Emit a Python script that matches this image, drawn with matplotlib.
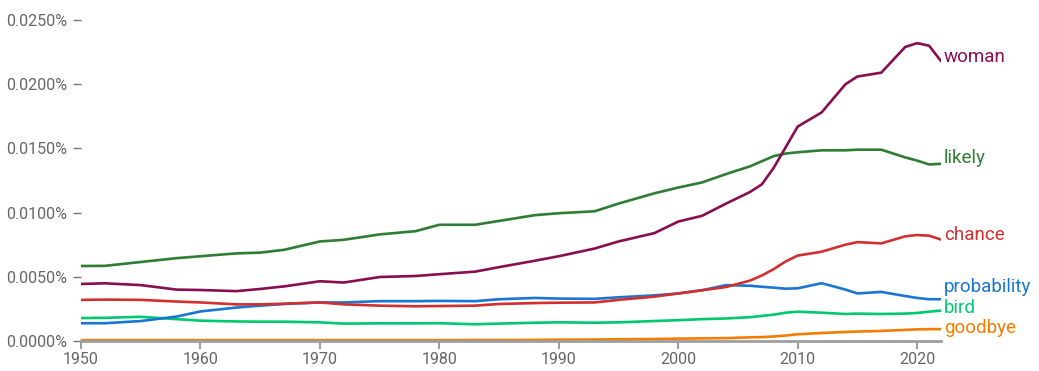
import matplotlib
matplotlib.use("Agg")
import matplotlib.pyplot as plt
from matplotlib.ticker import FuncFormatter

plt.rcParams['font.family'] = ['Roboto', 'DejaVu Sans']

years = [1950, 1952, 1955, 1958, 1960, 1963, 1965, 1967, 1970, 1972, 1975, 1978,
         1980, 1983, 1985, 1988, 1990, 1993, 1995, 1998, 2000, 2002, 2004, 2006,
         2007, 2008, 2009, 2010, 2012, 2014, 2015, 2017, 2019, 2020, 2021, 2022]

# frequencies in percent
likely = [5.84, 5.85, 6.15, 6.45, 6.6, 6.82, 6.88, 7.1, 7.75, 7.88, 8.3, 8.55,
          9.05, 9.05, 9.35, 9.8, 9.95, 10.1, 10.7, 11.5, 11.95, 12.35, 13.0, 13.6,
          14.0, 14.4, 14.6, 14.7, 14.85, 14.85, 14.9, 14.9, 14.3, 14.05, 13.75, 13.8]
woman = [4.44, 4.49, 4.35, 4.0, 3.97, 3.88, 4.05, 4.25, 4.65, 4.55, 4.98, 5.06,
         5.2, 5.4, 5.75, 6.25, 6.6, 7.2, 7.75, 8.4, 9.3, 9.75, 10.7, 11.6,
         12.2, 13.5, 15.1, 16.7, 17.8, 20.0, 20.6, 20.9, 22.9, 23.2, 23.0, 21.8]
chance = [3.2, 3.22, 3.2, 3.07, 3.0, 2.85, 2.85, 2.9, 3.0, 2.85, 2.75, 2.7,
          2.72, 2.75, 2.88, 2.95, 2.98, 3.0, 3.2, 3.45, 3.7, 3.95, 4.2, 4.7,
          5.1, 5.6, 6.2, 6.65, 6.95, 7.5, 7.7, 7.6, 8.15, 8.25, 8.2, 7.9]
probability = [1.38, 1.38, 1.55, 1.9, 2.3, 2.6, 2.75, 2.88, 3.0, 3.0, 3.1, 3.1,
               3.12, 3.1, 3.25, 3.35, 3.3, 3.28, 3.4, 3.55, 3.7, 3.95, 4.35, 4.3,
               4.22, 4.15, 4.07, 4.1, 4.5, 4.0, 3.7, 3.82, 3.5, 3.35, 3.25, 3.25]
bird = [1.78, 1.8, 1.88, 1.7, 1.58, 1.52, 1.5, 1.5, 1.45, 1.35, 1.37, 1.37,
        1.38, 1.3, 1.35, 1.42, 1.45, 1.42, 1.45, 1.55, 1.62, 1.7, 1.75, 1.85,
        1.95, 2.05, 2.2, 2.28, 2.2, 2.1, 2.13, 2.1, 2.13, 2.18, 2.28, 2.36]
goodbye = [0.06, 0.06, 0.06, 0.06, 0.06, 0.06, 0.06, 0.06, 0.06, 0.06, 0.06, 0.06,
           0.06, 0.07, 0.07, 0.08, 0.1, 0.11, 0.13, 0.15, 0.18, 0.2, 0.22, 0.28,
           0.3, 0.35, 0.42, 0.52, 0.62, 0.7, 0.73, 0.78, 0.86, 0.9, 0.92, 0.92]

series = [
    ("goodbye", goodbye, "#F57C00", 1),
    ("bird", bird, "#00C86E", 2),
    ("probability", probability, "#1976D2", 9),
    ("chance", chance, "#D32F2F", 3),
    ("likely", likely, "#2E7D32", 4),
    ("woman", woman, "#880E4F", 3),
]

fig = plt.figure(figsize=(10.39, 3.71), dpi=100)
ax = fig.add_axes([0.078, 0.081, 0.8277, 0.865])

for name, vals, color, dy in series:
    ax.plot(years, vals, color=color, lw=1.9, solid_capstyle='round')
    ax.annotate(name, xy=(years[-1], vals[-1]), xytext=(2, dy),
                textcoords='offset points', color=color, fontsize=13.5,
                va='center', ha='left', annotation_clip=False)

ax.set_xlim(1950, 2022)
ax.set_ylim(0, 0.025 * 1000)
ax.set_yticks([0, 5, 10, 15, 20, 25])
ax.yaxis.set_major_formatter(FuncFormatter(lambda v, p: "%.4f%%" % (v / 1000)))
ax.set_xticks(range(1950, 2030, 10))

for s in ['top', 'right', 'left']:
    ax.spines[s].set_visible(False)
ax.spines['bottom'].set_color('#9e9e9e')
ax.spines['bottom'].set_linewidth(2)

ax.tick_params(axis='y', length=6, width=1, color='#757575', pad=4,
               labelsize=11.5, labelcolor='#666666', direction='out')
ax.tick_params(axis='x', length=6, width=1.5, color='#9e9e9e', pad=2,
               labelsize=11.5, labelcolor='#666666')

fig.savefig("out.png", dpi=100)
